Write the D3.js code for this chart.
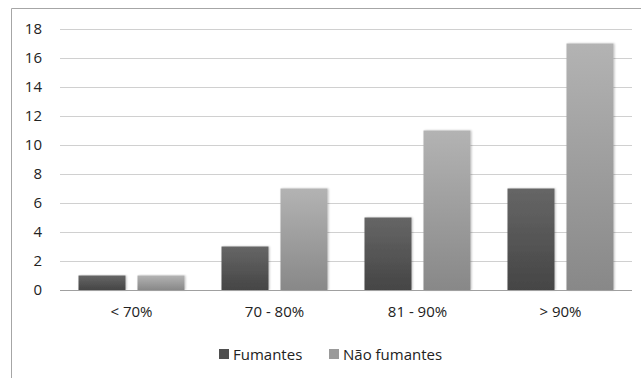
<!DOCTYPE html>
<html>
<head>
<meta charset="utf-8">
<script src="https://cdn.jsdelivr.net/npm/d3@7"></script>
<style>
  html, body { margin: 0; padding: 0; background: #fff; }
  svg { display: block; font-family: "Open Sans", Lato, sans-serif; }
</style>
</head>
<body>
<svg id="chart" width="641" height="378"></svg>
<script>
const categories = ["< 70%", "70 - 80%", "81 - 90%", "> 90%"];
const seriesNames = ["Fumantes", "Não fumantes"];
const fumantes = [1, 3, 5, 7];
const naoFumantes = [1, 7, 11, 17];
const yTicks = [0, 2, 4, 6, 8, 10, 12, 14, 16, 18];

const svg = d3.select("#chart");
const W = 641, H = 378;
const FONT = "'Open Sans', Lato, sans-serif";
const TEXT = "#222";

// frame around the chart area
svg.append("path")
  .attr("d", `M11.5,${H} L11.5,8.5 L${W},8.5`)
  .attr("fill", "none").attr("stroke", "#a6a6a6").attr("stroke-width", 1);

const plot = { left: 60, right: 632, top: 29, bottom: 290 };

const x = d3.scaleBand().domain(categories).range([plot.left, plot.right]).padding(0);
const y = d3.scaleLinear().domain([0, 18]).range([plot.bottom, plot.top]);

// gradients for the two series
const defs = svg.append("defs");
const grads = [
  { id: "gDark", top: "#666666", bottom: "#454545" },
  { id: "gLight", top: "#b3b3b3", bottom: "#888888" }
];
grads.forEach(g => {
  const lg = defs.append("linearGradient").attr("id", g.id)
    .attr("x1", 0).attr("y1", 0).attr("x2", 0).attr("y2", 1);
  lg.append("stop").attr("offset", "0%").attr("stop-color", g.top);
  lg.append("stop").attr("offset", "100%").attr("stop-color", g.bottom);
});
const shadow = defs.append("filter").attr("id", "shadow")
  .attr("x", "-10%").attr("y", "-10%").attr("width", "130%").attr("height", "120%");
shadow.append("feGaussianBlur").attr("in", "SourceAlpha").attr("stdDeviation", 1.2).attr("result", "b");
shadow.append("feOffset").attr("in", "b").attr("dx", 1).attr("dy", 0).attr("result", "o");
shadow.append("feComponentTransfer").attr("in", "o").attr("result", "s")
  .append("feFuncA").attr("type", "linear").attr("slope", 0.25);
const fm = shadow.append("feMerge");
fm.append("feMergeNode").attr("in", "s");
fm.append("feMergeNode").attr("in", "SourceGraphic");

// horizontal gridlines
svg.append("g").selectAll("line").data(yTicks.filter(t => t > 0)).join("line")
  .attr("x1", plot.left).attr("x2", plot.right)
  .attr("y1", d => Math.round(y(d)) + 0.5).attr("y2", d => Math.round(y(d)) + 0.5)
  .attr("stroke", "#d0d0d0").attr("stroke-width", 1);

// y axis labels
const yAxis = d3.axisLeft(y).tickValues(yTicks).tickSize(0).tickPadding(0);
const yg = svg.append("g").attr("transform", `translate(42,0)`).call(yAxis);
yg.select(".domain").remove();
yg.selectAll("text").attr("font-size", 15).attr("fill", TEXT).attr("font-family", FONT);

// bars: two per category, 47px wide with a 12px gap, centred in each band
const groupWidth = 106;
const inner = d3.scaleBand().domain(seriesNames)
  .range([(x.bandwidth() - groupWidth) / 2, (x.bandwidth() + groupWidth) / 2])
  .paddingInner(12 / 59).paddingOuter(0);
const series = [
  { name: seriesNames[0], values: fumantes, fill: "url(#gDark)" },
  { name: seriesNames[1], values: naoFumantes, fill: "url(#gLight)" }
];
series.forEach(s => {
  svg.append("g").selectAll("rect").data(s.values).join("rect")
    .attr("x", (d, i) => x(categories[i]) + inner(s.name))
    .attr("width", inner.bandwidth())
    .attr("y", d => y(d))
    .attr("height", d => y(0) - y(d))
    .attr("fill", s.fill)
    .attr("filter", "url(#shadow)");
});

// baseline
svg.append("line")
  .attr("x1", plot.left).attr("x2", plot.right)
  .attr("y1", plot.bottom + 0.5).attr("y2", plot.bottom + 0.5)
  .attr("stroke", "#a0a0a0").attr("stroke-width", 1);

// category labels
const xAxis = d3.axisBottom(x).tickSize(0).tickPadding(0);
const xg = svg.append("g").attr("transform", `translate(0,${plot.bottom + 16})`).call(xAxis);
xg.select(".domain").remove();
xg.selectAll("text").attr("font-size", 15).attr("fill", TEXT).attr("font-family", FONT)
  .attr("dy", "0.71em");

// legend
const legendItems = [
  { name: seriesNames[0], fill: "#4f4f4f", x: 219 },
  { name: seriesNames[1], fill: "#9a9a9a", x: 329 }
];
const lg = svg.append("g");
legendItems.forEach(it => {
  lg.append("rect").attr("x", it.x).attr("y", 349).attr("width", 10).attr("height", 10).attr("fill", it.fill);
  lg.append("text").attr("x", it.x + 14).attr("y", 359.5).attr("font-family", FONT)
    .attr("font-size", 15).attr("fill", TEXT).text(it.name);
});
</script>
</body>
</html>
